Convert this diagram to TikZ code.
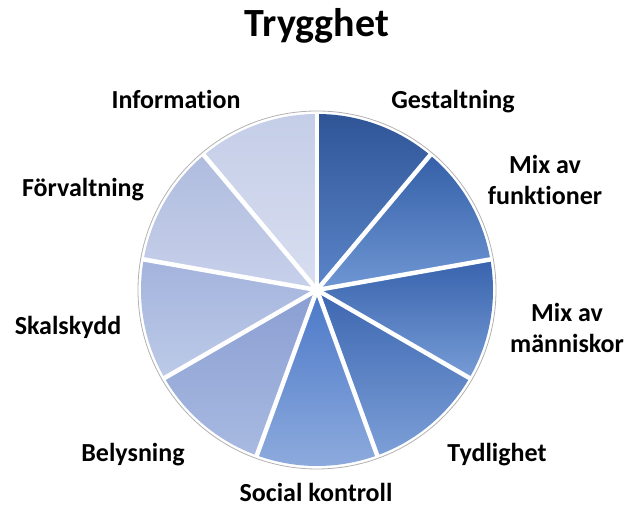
\documentclass[tikz,border=0pt]{standalone}
\usepackage{fontspec}
\setmainfont[Ligatures=NoCommon]{Carlito}
\definecolor{gesttop}{HTML}{2F5597}
\definecolor{gestbot}{HTML}{5B86C9}
\definecolor{funktop}{HTML}{3560A8}
\definecolor{funkbot}{HTML}{6F97D4}
\definecolor{manntop}{HTML}{3863AD}
\definecolor{mannbot}{HTML}{779CD6}
\definecolor{tydltop}{HTML}{3C66B0}
\definecolor{tydlbot}{HTML}{7C9FD7}
\definecolor{soctop}{HTML}{4A78C8}
\definecolor{socbot}{HTML}{8EABDD}
\definecolor{belytop}{HTML}{8A9ED2}
\definecolor{belybot}{HTML}{A8BAE1}
\definecolor{skaltop}{HTML}{A3B3DC}
\definecolor{skalbot}{HTML}{BDCAE8}
\definecolor{forvtop}{HTML}{AFBCDE}
\definecolor{forvbot}{HTML}{C8D1EB}
\definecolor{infotop}{HTML}{C5CEE8}
\definecolor{infobot}{HTML}{D8DEF0}
\tikzset{
 lbl/.style={font=\fontsize{26}{31}\selectfont\bfseries,anchor=base,align=center,inner sep=0pt},
 gap/.style={white,line width=4.5pt}
}
\begin{document}
\begin{tikzpicture}[x=1pt,y=1pt]
 \useasboundingbox (0,0) rectangle (627,510);
 \coordinate (O) at (317,220);
 \node[font=\fontsize{40}{44}\selectfont\bfseries,anchor=base,inner sep=0pt] (title) at (317,473) {Trygghet};
 % the pie
 \draw[gray!60,line width=0.8pt,fill=white] (O) circle (179pt);
 \foreach \a/\t/\b in {90/gesttop/gestbot,50/funktop/funkbot,10/manntop/mannbot,
   -30/tydltop/tydlbot,-70/soctop/socbot,-110/belytop/belybot,
   -150/skaltop/skalbot,-190/forvtop/forvbot,-230/infotop/infobot}
 \shade[top color=\t,bottom color=\b] (O) -- ++(\a:176pt)
   arc[start angle=\a,delta angle=-40,radius=176pt] -- cycle;
 \foreach \a in {90,50,...,-230}
 \draw[gap] (O) -- ++(\a:177pt);
 % labels
 \node[lbl] (info) at (176,401) {Information};
 \node[lbl] (gestalt) at (453,401) {Gestaltning};
 \node[lbl] (mixfunk) at (545,305) {Mix av\\funktioner};
 \node[lbl] (mixmann) at (567,157) {Mix av\\människor};
 \node[lbl] (tydlig) at (497,48) {Tydlighet};
 \node[lbl] (social) at (316,8) {Social kontroll};
 \node[lbl] (belys) at (133,48) {Belysning};
 \node[lbl] (skal) at (68,175) {Skalskydd};
 \node[lbl] (forv) at (83,313) {Förvaltning};
\end{tikzpicture}
\end{document}
